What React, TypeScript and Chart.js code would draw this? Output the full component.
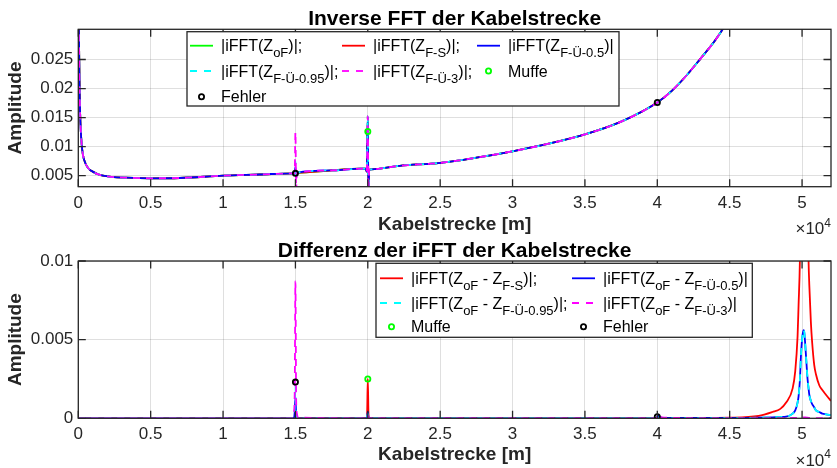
import React, { useEffect, useRef } from 'react';
import { Chart, registerables } from 'chart.js';

Chart.register(...registerables);

const FONT = '"Liberation Sans", Arial, Helvetica, sans-serif';
const AXIS_COLOR = '#262626';
const GRID_COLOR = 'rgba(38,38,38,0.15)';

// ---------- ticks ----------
const xTickValues = [0, 5000, 10000, 15000, 20000, 25000, 30000, 35000, 40000, 45000, 50000];
const xTickLabels = ['0', '0.5', '1', '1.5', '2', '2.5', '3', '3.5', '4', '4.5', '5'];
const yTopTickValues = [0.005, 0.01, 0.015, 0.02, 0.025];
const yTopTickLabels = ['0.005', '0.01', '0.015', '0.02', '0.025'];
const yBottomTickValues = [0, 0.005, 0.01];
const yBottomTickLabels = ['0', '0.005', '0.01'];

// ---------- top plot: Inverse FFT ----------
const topX = [0, 40, 100, 150, 220, 320, 450, 600, 800, 1000, 1300, 1700, 2300, 3300, 5000, 7000, 10000, 12500, 14900, 14950, 15000, 15050, 15100, 17500, 19500, 19850, 19930, 20000, 20040, 20100, 20250, 22200, 25000, 27500, 30000, 32500, 35000, 37500, 40000, 41000, 42000, 43000, 44000, 45000, 46000, 48000, 50000, 52000];
const topZoF = [0.045, 0.03, 0.0185, 0.014, 0.0108, 0.0086, 0.0074, 0.0066, 0.006, 0.0057, 0.0053, 0.005, 0.0048, 0.00466, 0.00455, 0.0046, 0.005, 0.0052, 0.0054, 0.0054, 0.0055, 0.0055, 0.0055, 0.0059, 0.0062, 0.0062, 0.0057, 0.0152, 0.0025, 0.006, 0.0061, 0.0067, 0.0072, 0.0081, 0.0092, 0.0105, 0.0121, 0.0143, 0.0176, 0.0196, 0.0222, 0.0252, 0.0283, 0.0322, 0.037, 0.05, 0.08, 0.12];
const topZFS = [0.045, 0.03, 0.0185, 0.014, 0.0108, 0.0086, 0.0074, 0.0066, 0.006, 0.0057, 0.0053, 0.005, 0.0048, 0.00466, 0.00455, 0.0046, 0.005, 0.0052, 0.0054, 0.0054, 0.0055, 0.0055, 0.0055, 0.0059, 0.0062, 0.0062, 0.0057, 0.0152, 0.0025, 0.006, 0.0061, 0.0067, 0.0072, 0.0081, 0.0092, 0.0105, 0.0121, 0.0143, 0.0176, 0.0196, 0.0222, 0.0252, 0.0283, 0.0322, 0.037, 0.05, 0.08, 0.12];
const topZFU05 = [0.045, 0.03, 0.0185, 0.014, 0.0108, 0.0086, 0.0074, 0.0066, 0.006, 0.0057, 0.0053, 0.005, 0.0048, 0.00466, 0.00455, 0.0046, 0.005, 0.0052, 0.0054, 0.0054, 0.0065, 0.0049, 0.0055, 0.0059, 0.0062, 0.0062, 0.0057, 0.0152, 0.0025, 0.006, 0.0061, 0.0067, 0.0072, 0.0081, 0.0092, 0.0105, 0.0121, 0.0143, 0.0176, 0.0196, 0.0222, 0.0252, 0.0283, 0.0322, 0.037, 0.05, 0.08, 0.12];
const topZFU095 = [0.045, 0.03, 0.0185, 0.014, 0.0108, 0.0086, 0.0074, 0.0066, 0.006, 0.0057, 0.0053, 0.005, 0.0048, 0.00466, 0.00455, 0.0046, 0.005, 0.0052, 0.0054, 0.0054, 0.0074, 0.0043, 0.0055, 0.0059, 0.0062, 0.0062, 0.0057, 0.0152, 0.0025, 0.006, 0.0061, 0.0067, 0.0072, 0.0081, 0.0092, 0.0105, 0.0121, 0.0143, 0.0176, 0.0196, 0.0222, 0.0252, 0.0283, 0.0322, 0.037, 0.05, 0.08, 0.12];
const topZFU3 = [0.045, 0.03, 0.0185, 0.014, 0.0108, 0.0086, 0.0074, 0.0066, 0.006, 0.0057, 0.0053, 0.005, 0.0048, 0.00466, 0.00455, 0.0046, 0.005, 0.0052, 0.0054, 0.0054, 0.0125, 0.0025, 0.0055, 0.0059, 0.0062, 0.0062, 0.0057, 0.0152, 0.0025, 0.006, 0.0061, 0.0067, 0.0072, 0.0081, 0.0092, 0.0105, 0.0121, 0.0143, 0.0176, 0.0196, 0.0222, 0.0252, 0.0283, 0.0322, 0.037, 0.05, 0.08, 0.12];
const muffeX = [20000];
const muffeTopY = [0.0126];
const fehlerX = [15000, 40000];
const fehlerTopY = [0.0054, 0.0176];

// ---------- bottom plot: differences ----------
const bottomX = [0, 14800, 14900, 14950, 15000, 15050, 15100, 15200, 19900, 19950, 20000, 20050, 20100, 39950, 40000, 40050, 40200, 40500, 45000, 47000, 47950, 48500, 48900, 49350, 49530, 49690, 49760, 49850, 49920, 50010, 50100, 50150, 50190, 50270, 50380, 50450, 50500, 50610, 50700, 50840, 50960, 51190, 51400, 51650, 52000];
const diffFS = [0, 0, 0, 0, 0, 0, 0, 0, 0, 0.0002, 0.0025, 0.0002, 0, 0, 0, 0.00001, 0.00001, 0.00001, 0.00004, 0.00015, 0.0004, 0.0006, 0.001, 0.0019, 0.003, 0.0052, 0.0072, 0.01, 0.015, 0.03, 0.05, 0.055, 0.05, 0.03, 0.014, 0.01, 0.0085, 0.0061, 0.0048, 0.0034, 0.0028, 0.0021, 0.0018, 0.0015, 0.0011];
const diffFU05 = [0, 0, 0, 0.0004, 0.0013, 0.0003, 0.0001, 0, 0, 0.00005, 0.0004, 0.00005, 0, 0, 0.0001, 0.00015, 0.00006, 0.00002, 0.00002, 0.00004, 0.00006, 0.00008, 0.0001, 0.0003, 0.0005, 0.001, 0.0014, 0.0024, 0.0039, 0.0051, 0.0056, 0.0055, 0.0051, 0.004, 0.0025, 0.0019, 0.0015, 0.0011, 0.0009, 0.0007, 0.0005, 0.0004, 0.0003, 0.00025, 0.0002];
const diffFU095 = [0, 0, 0.0002, 0.0006, 0.0021, 0.0005, 0.0001, 0, 0, 0.00004, 0.0003, 0.00004, 0, 0, 0.00008, 0.0001, 0.00004, 0.00001, 0.00002, 0.00004, 0.00006, 0.00008, 0.0001, 0.0003, 0.0005, 0.001, 0.0014, 0.0024, 0.0039, 0.0051, 0.0056, 0.0055, 0.0051, 0.004, 0.0025, 0.0019, 0.0015, 0.0011, 0.0009, 0.0007, 0.0005, 0.0004, 0.0003, 0.00025, 0.0002];
const diffFU3 = [0, 0, 0.0004, 0.0015, 0.0087, 0.0012, 0.0003, 0.00005, 0, 0.00003, 0.0002, 0.00003, 0, 0, 0.0002, 0.00025, 0.0001, 0.00004, 0.00001, 0.00001, 0.00001, 0.00001, 0.00001, 0.00002, 0.00002, 0.00003, 0.00003, 0.00004, 0.00005, 0.00006, 0.00006, 0.00006, 0.00006, 0.00005, 0.00004, 0.00003, 0.00003, 0.00002, 0.00002, 0.00002, 0.00001, 0.00001, 0.00001, 0.00001, 0.00001];
const muffeBottomY = [0.0025];
const fehlerBottomY = [0.0023, 0.0001];

// ---------- helpers ----------
const pts = (xs: number[], ys: number[]) => xs.map((x, i) => ({ x, y: ys[i] }));

function lineDs(label: string, color: string, xs: number[], ys: number[], dashed: boolean, order: number) {
  return {
    type: 'line',
    label,
    data: pts(xs, ys),
    borderColor: color,
    backgroundColor: color,
    borderWidth: 1.8,
    borderDash: dashed ? [7, 6] : [],
    pointRadius: 0,
    cubicInterpolationMode: 'monotone',
    fill: false,
    order,
  };
}

function markerDs(label: string, color: string, xs: number[], ys: number[], order: number) {
  return {
    type: 'line',
    label,
    data: pts(xs, ys),
    showLine: false,
    borderColor: color,
    backgroundColor: 'rgba(0,0,0,0)',
    pointBorderColor: color,
    pointBackgroundColor: 'rgba(0,0,0,0)',
    pointRadius: 2.6,
    pointBorderWidth: 1.8,
    pointStyle: 'circle',
    order,
  };
}

function parseTex(s: string) {
  const segs: { t: string; sub: boolean }[] = [];
  const re = /_\{([^}]*)\}/g;
  let last = 0;
  let m: RegExpExecArray | null;
  while ((m = re.exec(s))) {
    if (m.index > last) segs.push({ t: s.slice(last, m.index), sub: false });
    segs.push({ t: m[1], sub: true });
    last = re.lastIndex;
  }
  if (last < s.length) segs.push({ t: s.slice(last), sub: false });
  return segs;
}

const matlabPlugin = {
  id: 'matlabAxes',
  afterDatasetsDraw(chart: any) {
    const { ctx, chartArea: a, scales } = chart;
    ctx.save();
    ctx.strokeStyle = AXIS_COLOR;
    ctx.lineWidth = 1.3;
    ctx.setLineDash([]);
    const tl = 7.5;
    ctx.beginPath();
    for (const t of scales.x.ticks) {
      const px = scales.x.getPixelForValue(t.value);
      ctx.moveTo(px, a.bottom);
      ctx.lineTo(px, a.bottom - tl);
      ctx.moveTo(px, a.top);
      ctx.lineTo(px, a.top + tl);
    }
    for (const t of scales.y.ticks) {
      const py = scales.y.getPixelForValue(t.value);
      ctx.moveTo(a.left, py);
      ctx.lineTo(a.left + tl, py);
      ctx.moveTo(a.right, py);
      ctx.lineTo(a.right - tl, py);
    }
    ctx.stroke();
    ctx.strokeRect(a.left, a.top, a.right - a.left, a.bottom - a.top);
    ctx.restore();
  },
  afterDraw(chart: any, _args: any, opts: any) {
    const { ctx, chartArea: a } = chart;
    ctx.save();
    // title centred over the axes box
    ctx.fillStyle = '#000000';
    ctx.font = `bold 21px ${FONT}`;
    ctx.textAlign = 'center';
    ctx.textBaseline = 'alphabetic';
    ctx.fillText(opts.title, (a.left + a.right) / 2, a.top - 4.3);

    // exponent label
    ctx.fillStyle = AXIS_COLOR;
    ctx.font = `12px ${FONT}`;
    const w4 = ctx.measureText(opts.exponent).width;
    const base = a.bottom + 47.5;
    ctx.textAlign = 'left';
    ctx.fillText(opts.exponent, a.right - w4, base - 7.6);
    ctx.font = `17px ${FONT}`;
    ctx.textAlign = 'right';
    ctx.fillText('\u00d710', a.right - w4, base);

    // legend
    const L = opts.legend;
    const bx = a.left + L.left;
    const by = a.top + L.top;
    ctx.fillStyle = '#ffffff';
    ctx.fillRect(bx, by, L.width, L.height);
    ctx.strokeStyle = AXIS_COLOR;
    ctx.lineWidth = 1.3;
    ctx.strokeRect(bx, by, L.width, L.height);
    const ds = chart.data.datasets;
    ds.forEach((d: any, i: number) => {
      const col = i % L.cols.length;
      const row = Math.floor(i / L.cols.length);
      const x = bx + L.cols[col];
      const yc = by + L.rows[row];
      ctx.save();
      if (d.showLine === false) {
        ctx.strokeStyle = d.pointBorderColor;
        ctx.lineWidth = 1.8;
        ctx.beginPath();
        ctx.arc(x + 11.5, yc, 2.6, 0, Math.PI * 2);
        ctx.stroke();
      } else {
        ctx.strokeStyle = d.borderColor;
        ctx.lineWidth = 1.8;
        ctx.setLineDash(d.borderDash && d.borderDash.length ? [7, 7] : []);
        ctx.beginPath();
        ctx.moveTo(x, yc);
        ctx.lineTo(x + 23, yc);
        ctx.stroke();
      }
      ctx.restore();
      let tx = x + 31;
      const baseline = yc + 5.5;
      ctx.fillStyle = '#000000';
      ctx.textAlign = 'left';
      for (const seg of parseTex(d.label)) {
        ctx.font = seg.sub ? `13px ${FONT}` : `16px ${FONT}`;
        ctx.fillText(seg.t, tx, baseline + (seg.sub ? 6 : 0));
        tx += ctx.measureText(seg.t).width;
      }
    });
    ctx.restore();
  },
};

function makeOptions(p: {
  title: string;
  yMin: number;
  yMax: number;
  yTicks: number[];
  yLabels: string[];
  padTop: number;
  padBottom: number;
  xHeight: number;
  xTitlePadBottom: number;
  legend: any;
}) {
  return {
    responsive: false,
    devicePixelRatio: 1,
    animation: false,
    events: [],
    layout: { padding: { left: 0, right: 6, top: p.padTop, bottom: p.padBottom } },
    plugins: {
      legend: { display: false },
      tooltip: { enabled: false },
      title: { display: false },
      matlabAxes: { exponent: '4', legend: p.legend, title: p.title },
    },
    scales: {
      x: {
        type: 'linear',
        min: 0,
        max: 52000,
        afterBuildTicks: (s: any) => {
          s.ticks = xTickValues.map((v) => ({ value: v }));
        },
        afterFit: (s: any) => {
          s.height = p.xHeight;
        },
        ticks: {
          callback: (_v: any, i: number) => xTickLabels[i],
          font: { family: FONT, size: 17 },
          color: AXIS_COLOR,
          padding: 6,
          autoSkip: false,
          maxRotation: 0,
          minRotation: 0,
        },
        grid: { color: GRID_COLOR, lineWidth: 1, drawTicks: false },
        border: { display: false },
        title: {
          display: true,
          text: 'Kabelstrecke [m]',
          color: AXIS_COLOR,
          font: { family: FONT, size: 19, weight: 'bold', lineHeight: '18px' },
          padding: { top: 0, bottom: p.xTitlePadBottom },
        },
      },
      y: {
        type: 'linear',
        min: p.yMin,
        max: p.yMax,
        afterBuildTicks: (s: any) => {
          s.ticks = p.yTicks.map((v) => ({ value: v }));
        },
        afterFit: (s: any) => {
          s.width = 78.3;
        },
        ticks: {
          callback: (_v: any, i: number) => p.yLabels[i],
          font: { family: FONT, size: 17 },
          color: AXIS_COLOR,
          padding: 5,
          autoSkip: false,
        },
        grid: { color: GRID_COLOR, lineWidth: 1, drawTicks: false },
        border: { display: false },
        title: {
          display: true,
          text: 'Amplitude',
          color: AXIS_COLOR,
          font: { family: FONT, size: 19, weight: 'bold', lineHeight: '18px' },
          padding: { top: 7, bottom: 0 },
        },
      },
    },
  };
}

function topConfig(): any {
  return {
    type: 'line',
    data: {
      datasets: [
        lineDs('|iFFT(Z_{oF})|;', '#00ff00', topX, topZoF, false, 7),
        lineDs('|iFFT(Z_{F-S})|;', '#ff0000', topX, topZFS, false, 6),
        lineDs('|iFFT(Z_{F-Ü-0.5})|', '#0000ff', topX, topZFU05, false, 5),
        lineDs('|iFFT(Z_{F-Ü-0.95})|;', '#00ffff', topX, topZFU095, true, 4),
        lineDs('|iFFT(Z_{F-Ü-3})|;', '#ff00ff', topX, topZFU3, true, 3),
        markerDs('Muffe', '#00ff00', muffeX, muffeTopY, 2),
        markerDs('Fehler', '#000000', fehlerX, fehlerTopY, 1),
      ],
    },
    options: makeOptions({
      title: 'Inverse FFT der Kabelstrecke',
      yMin: 0.0031,
      yMax: 0.0302,
      yTicks: yTopTickValues,
      yLabels: yTopTickLabels,
      padTop: 29.3,
      padBottom: 228,
      xHeight: 53.3,
      xTitlePadBottom: 6,
      legend: { left: 108.7, top: 2.4, width: 432, height: 74.3, cols: [3, 155, 290], rows: [14, 39.3, 65] },
    }),
    plugins: [matlabPlugin],
  };
}

function bottomConfig(): any {
  return {
    type: 'line',
    data: {
      datasets: [
        lineDs('|iFFT(Z_{oF} - Z_{F-S})|;', '#ff0000', bottomX, diffFS, false, 6),
        lineDs('|iFFT(Z_{oF} - Z_{F-Ü-0.5})|', '#0000ff', bottomX, diffFU05, false, 5),
        lineDs('|iFFT(Z_{oF} - Z_{F-Ü-0.95})|;', '#00ffff', bottomX, diffFU095, true, 4),
        lineDs('|iFFT(Z_{oF} - Z_{F-Ü-3})|', '#ff00ff', bottomX, diffFU3, true, 3),
        markerDs('Muffe', '#00ff00', muffeX, muffeBottomY, 2),
        markerDs('Fehler', '#000000', fehlerX, fehlerBottomY, 1),
      ],
    },
    options: makeOptions({
      title: 'Differenz der iFFT der Kabelstrecke',
      yMin: 0,
      yMax: 0.01,
      yTicks: yBottomTickValues,
      yLabels: yBottomTickLabels,
      padTop: 261,
      padBottom: 0,
      xHeight: 49.7,
      xTitlePadBottom: 4,
      legend: { left: 297.7, top: 2.3, width: 376.3, height: 74, cols: [4, 196], rows: [15, 39.7, 63.4] },
    }),
    plugins: [matlabPlugin],
  };
}

function ChartCanvas({ make }: { make: () => any }) {
  const ref = useRef<HTMLCanvasElement | null>(null);
  useEffect(() => {
    const chart = new Chart(ref.current as HTMLCanvasElement, make());
    return () => chart.destroy();
  }, [make]);
  return (
    <canvas
      ref={ref}
      width={837}
      height={468}
      style={{ position: 'absolute', left: 0, top: 0, width: 837, height: 468 }}
    />
  );
}

export default function App() {
  return (
    <div style={{ position: 'fixed', left: 0, top: 0, width: 837, height: 468, background: '#ffffff', overflow: 'hidden' }}>
      <ChartCanvas make={topConfig} />
      <ChartCanvas make={bottomConfig} />
    </div>
  );
}
